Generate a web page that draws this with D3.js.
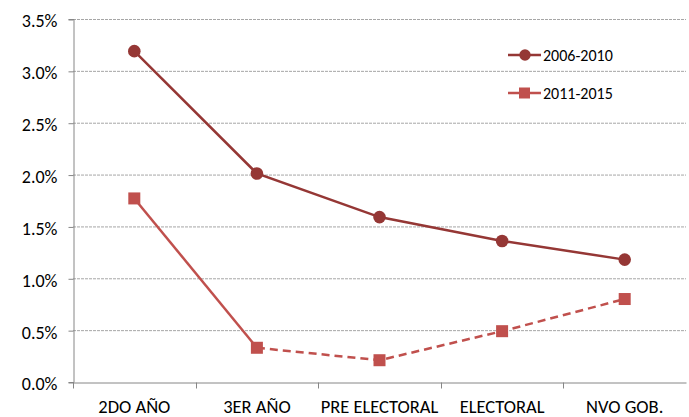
<!DOCTYPE html>
<html><head><meta charset="utf-8">
<script src="https://cdn.jsdelivr.net/npm/d3@7"></script>
<style>
body{margin:0;background:#fff;}
text{font-family:Carlito,'Liberation Sans Narrow','Open Sans',sans-serif;fill:#000;}
</style></head>
<body><svg id="c" width="689" height="417"></svg>
<script>
const categories = ["2DO AÑO","3ER AÑO","PRE ELECTORAL","ELECTORAL","NVO GOB."];
const series1Name = "2006-2010";
const series1 = [3.19, 2.01, 1.59, 1.36, 1.18];
const series2Name = "2011-2015";
const series2 = [1.77, 0.33, 0.21, 0.49, 0.80];
const yTicks = [0, 0.5, 1.0, 1.5, 2.0, 2.5, 3.0, 3.5];

const svg = d3.select("#c");
const m = {l:73, r:686, t:19, b:382};
const x = d3.scaleBand().domain(categories).range([m.l, m.r]);
const y = d3.scaleLinear().domain([0, 3.5]).range([m.b, m.t]);
const c1 = "#953735", c2 = "#C0504D";

// gridlines
svg.append("g").selectAll("line").data(yTicks.filter(d=>d>0)).join("line")
  .attr("x1", m.l).attr("x2", m.r).attr("y1", d=>y(d)+0.5).attr("y2", d=>y(d)+0.5)
  .attr("stroke", "#a6a6a6").attr("stroke-width", 1).attr("stroke-dasharray", "3,1");

// y axis
const ya = svg.append("g").attr("transform", `translate(${m.l+0.5},0)`)
  .call(d3.axisLeft(y).tickValues(yTicks).tickFormat(d=>d.toFixed(1)+"%").tickSize(5).tickPadding(11));
ya.select(".domain").attr("stroke", "#868686");
ya.selectAll(".tick line").attr("stroke", "#868686").attr("transform","translate(0,0.5)");
ya.selectAll("text").style("font-size","18px").attr("fill","#000").attr("dy","0.44em");

// x axis
const xa = svg.append("g").attr("transform", `translate(0,${m.b+0.5})`)
  .call(d3.axisBottom(x).tickSize(0).tickPadding(17));
xa.select(".domain").attr("stroke", "#868686");
xa.selectAll("text").style("font-size","18.5px").attr("fill","#000");
const bounds = categories.map(c=>x(c));
xa.selectAll(".bt").data(bounds).join("line").attr("class","bt")
  .attr("x1", d=>Math.round(d)+0.5).attr("x2", d=>Math.round(d)+0.5).attr("y1",0).attr("y2",6)
  .attr("stroke","#868686");

const cx = d=>x(d)+x.bandwidth()/2;
const line = d3.line().x(d=>cx(d[0])).y(d=>y(d[1]));
const d1 = categories.map((c,i)=>[c, series1[i]]);
const d2 = categories.map((c,i)=>[c, series2[i]]);

svg.append("path").attr("d", line(d1)).attr("fill","none").attr("stroke",c1).attr("stroke-width",2.5);
svg.append("path").attr("d", line(d2.slice(0,2))).attr("fill","none").attr("stroke",c2).attr("stroke-width",2.5);
svg.append("path").attr("d", line(d2.slice(1))).attr("fill","none").attr("stroke",c2).attr("stroke-width",2.5).attr("stroke-dasharray","8,5");

svg.append("g").selectAll("circle").data(d1).join("circle")
  .attr("cx", d=>cx(d[0])).attr("cy", d=>y(d[1])).attr("r", 6.3).attr("fill", c1);
svg.append("g").selectAll("rect").data(d2).join("rect")
  .attr("x", d=>cx(d[0])-6).attr("y", d=>y(d[1])-6).attr("width",12).attr("height",12).attr("fill", c2);

// legend
const lg = [{n:series1Name, c:c1, s:"circle", y:55},{n:series2Name, c:c2, s:"rect", y:93}];
const L = svg.append("g");
lg.forEach(d=>{
  L.append("line").attr("x1",508).attr("x2",541).attr("y1",d.y).attr("y2",d.y).attr("stroke",d.c).attr("stroke-width",2.5);
  if(d.s==="circle") L.append("circle").attr("cx",525).attr("cy",d.y).attr("r",5.7).attr("fill",d.c);
  else L.append("rect").attr("x",519).attr("y",d.y-5.5).attr("width",11).attr("height",11).attr("fill",d.c);
  L.append("text").attr("x",543).attr("y",d.y+5.5).style("font-size","16px").text(d.n);
});
</script></body></html>
